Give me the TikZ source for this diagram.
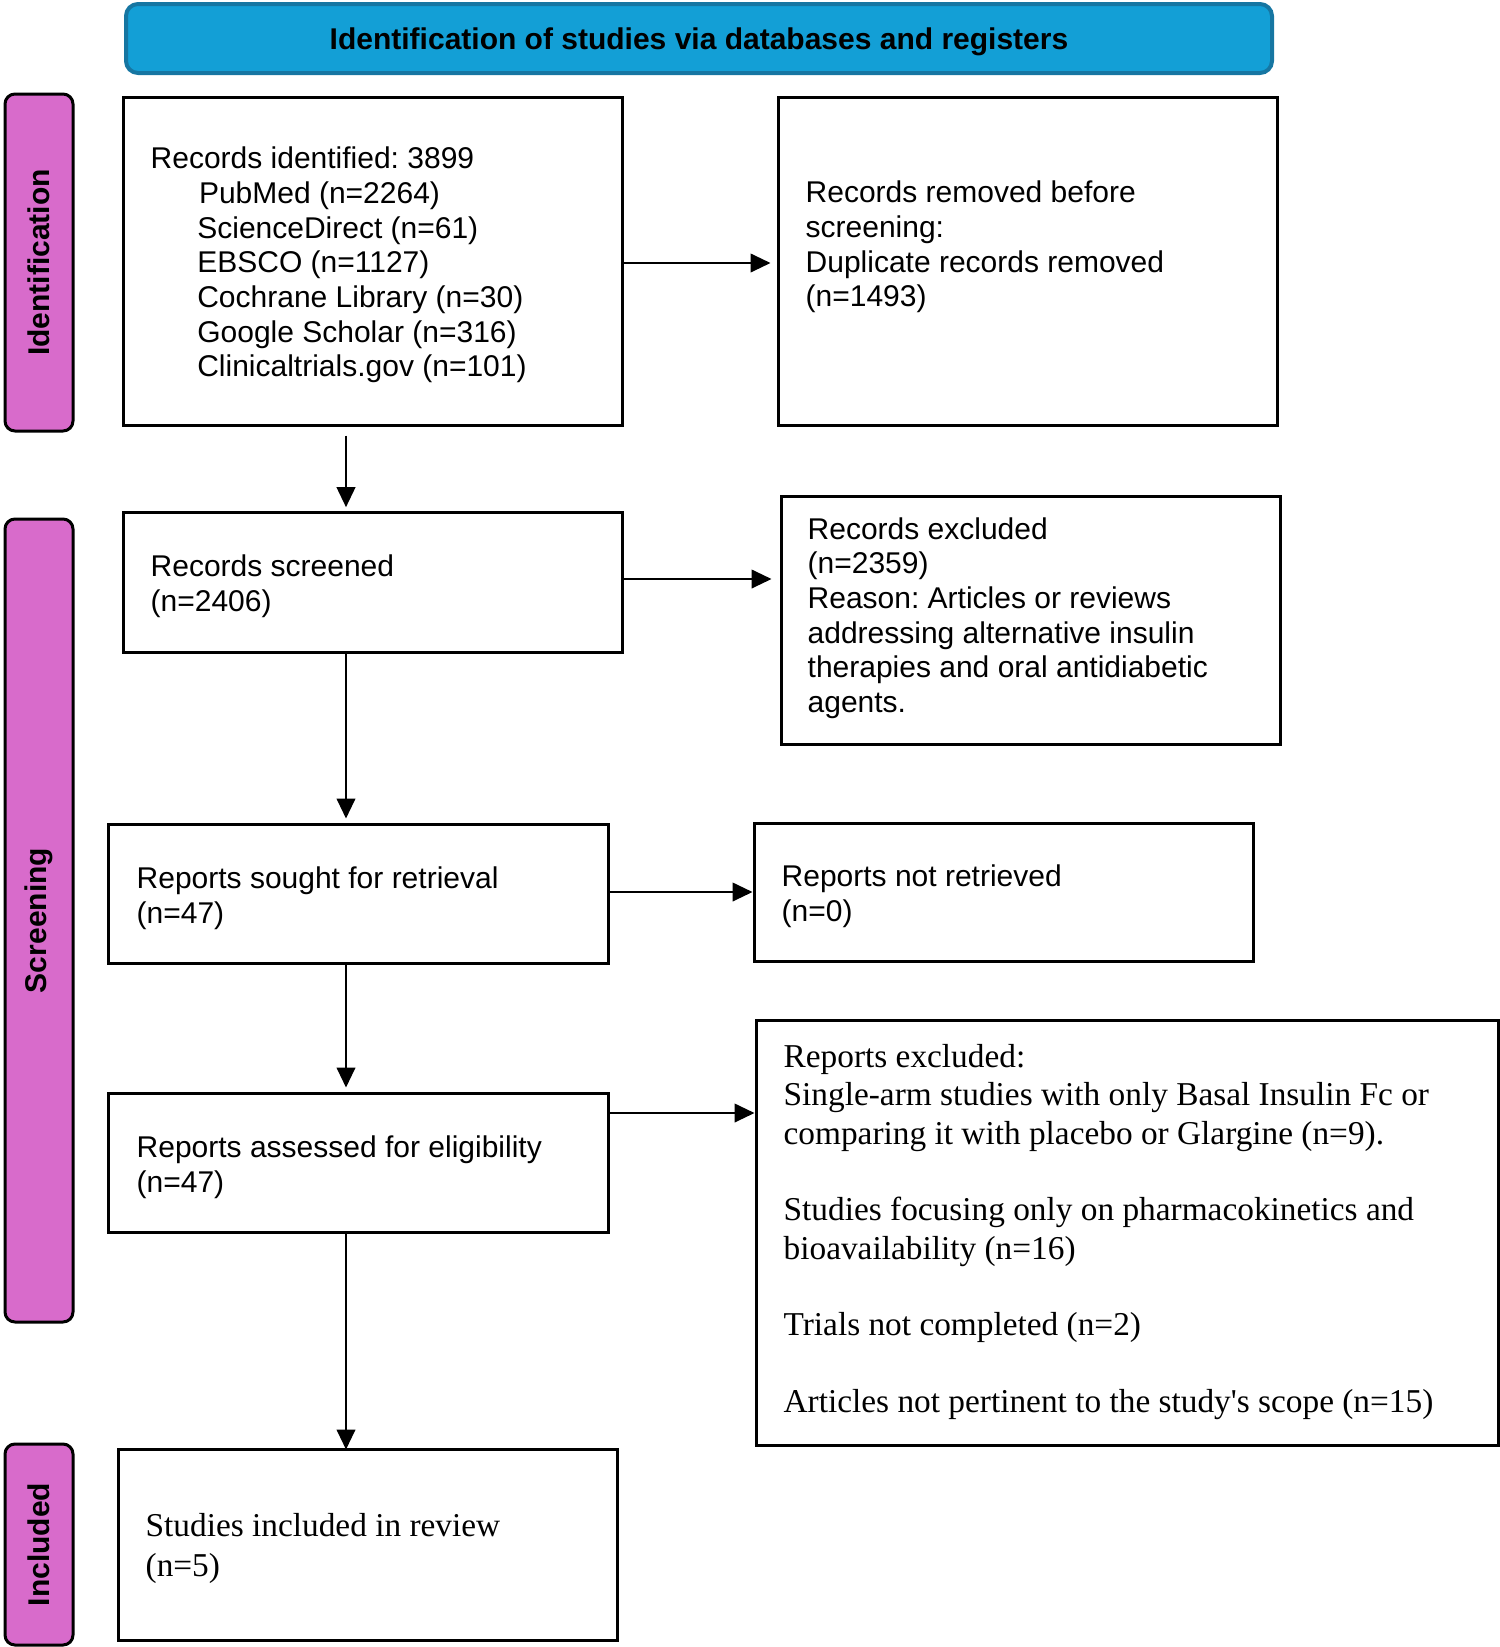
\documentclass[tikz,border=0pt]{standalone}
\usepackage{fontspec}
\setmainfont{Liberation Sans}
\newfontfamily\tnr{Liberation Serif}
\usetikzlibrary{arrows.meta,fit}
\definecolor{bannerfill}{HTML}{139FD6}
\definecolor{bannerline}{HTML}{1676A2}
\definecolor{phasefill}{HTML}{D86BCB}
\frenchspacing
\begin{document}
\begin{tikzpicture}[x=0.3pt,y=-0.3pt,
  box/.style={draw=black,line width=0.9pt,inner sep=0pt,fill=white},
  banner/.style={draw=bannerline,line width=1.2pt,fill=bannerfill,rounded corners=3.6pt,inner sep=0pt},
  phase/.style={draw=black,line width=0.9pt,fill=phasefill,rounded corners=3pt,inner sep=0pt},
  phasetxt/.style={rotate=90,font=\fontsize{9}{10.4}\selectfont\bfseries,inner sep=0pt},
  txt/.style={anchor=west,align=left,inner sep=0pt,font=\fontsize{9}{10.4}\selectfont},
  stxt/.style={anchor=west,align=left,inner sep=0pt,font=\tnr\fontsize{10}{11.5}\selectfont},
  arr/.style={line width=0.6pt,-{Triangle[length=6pt,width=5.6pt]}}
]
\useasboundingbox (0,0) rectangle (1500,1647);

% banner
\node[banner,fit={(126,4) (1272,73)}] (ban) {};
\node[font=\fontsize{9}{10.4}\selectfont\bfseries,inner sep=0pt] (bantxt) at (699,42) {Identification of studies via databases and registers};

% phase bars
\node[phase,fit={(5,94) (73,431)}] (pid) {};
\node[phasetxt] (pidtxt) at (pid.center) {Identification};
\node[phase,fit={(5,519) (73,1322)}] (psc) {};
\node[phasetxt] (psctxt) at (psc.center) {Screening};
\node[phase,fit={(5,1444) (73,1645)}] (pin) {};
\node[phasetxt] (pintxt) at (pin.center) {Included};

% boxes
\node[box,fit={(123,97) (622,425)}] (b1) {};
\node[box,fit={(778,97) (1277,425)}] (b2) {};
\node[box,fit={(123,512) (622,652)}] (b3) {};
\node[box,fit={(781,496) (1280,744)}] (b4) {};
\node[box,fit={(108,824) (608,963)}] (b5) {};
\node[box,fit={(754,823) (1253,961)}] (b6) {};
\node[box,fit={(108,1093) (608,1232)}] (b7) {};
\node[box,fit={(756,1020) (1498,1445)}] (b8) {};
\node[box,fit={(118,1449) (617,1640)}] (b9) {};

% texts
\node[txt] (t1) at (150,265) {Records identified: 3899\\
\hspace*{14.5pt}PubMed (n=2264)\\
\hspace*{14pt}ScienceDirect (n=61)\\
\hspace*{14pt}EBSCO (n=1127)\\
\hspace*{14pt}Cochrane Library (n=30)\\
\hspace*{14pt}Google Scholar (n=316)\\
\hspace*{14pt}Clinicaltrials.gov (n=101)};
\node[txt] (t2) at (805,247) {Records removed before\\screening:\\Duplicate records removed\\(n=1493)};
\node[txt] (t3) at (150,586) {Records screened\\(n=2406)};
\node[txt] (t4) at (807,618) {Records excluded\\(n=2359)\\Reason: Articles or reviews\\addressing alternative insulin\\therapies and oral antidiabetic\\agents.};
\node[txt] (t5) at (136,898) {Reports sought for retrieval\\(n=47)};
\node[txt] (t6) at (781,896) {Reports not retrieved\\(n=0)};
\node[txt] (t7) at (136,1167) {Reports assessed for eligibility\\(n=47)};
\node[stxt] (t8) at (783,1232) {Reports excluded:\\
Single-arm studies with only Basal Insulin Fc or\\
comparing it with placebo or Glargine (n=9).\\[11.5pt]
Studies focusing only on pharmacokinetics and\\
bioavailability (n=16)\\[11.5pt]
Trials not completed (n=2)\\[11.5pt]
Articles not pertinent to the study\textquotesingle s scope (n=15)};
\node[stxt,font=\tnr\fontsize{10}{12}\selectfont] (t9) at (145,1548) {Studies included in review\\(n=5)};

% connectors
\draw[arr] ([yshift=-2.7pt]b1.south -| 346,0) -- ([yshift=1pt]b3.north -| 346,0);
\draw[arr] (b1.east |- 0,263) -- ([xshift=-1.8pt]b2.west |- 0,263);
\draw[arr] (b3.east |- 0,579) -- ([xshift=-2.4pt]b4.west |- 0,579);
\draw[arr] (b3.south -| 346,0) -- ([yshift=1.2pt]b5.north -| 346,0);
\draw[arr] (b5.east |- 0,892) -- (b6.west |- 0,892);
\draw[arr] (b5.south -| 346,0) -- ([yshift=1.2pt]b7.north -| 346,0);
\draw[arr] (b7.east |- 0,1113) -- (b8.west |- 0,1113);
\draw[arr] (b7.south -| 346,0) -- ([yshift=-0.6pt]b9.north -| 346,0);
\end{tikzpicture}
\end{document}
